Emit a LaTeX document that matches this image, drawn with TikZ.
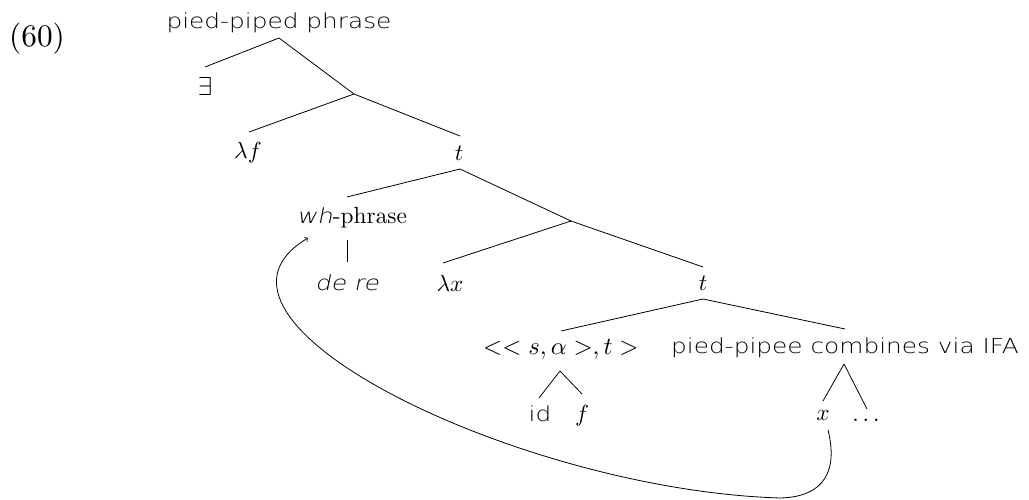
\documentclass[tikz,border=0pt]{standalone}
\usepackage{fix-cm}
\usepackage{fontspec}
\setmainfont{lmroman10-regular.otf}
\setsansfont{DejaVu Sans ExtraLight}[FakeStretch=1.2, ItalicFont={DejaVu Sans ExtraLight}, ItalicFeatures={FakeSlant=0.2}]
\DeclareFontShape{OML}{cmm}{m}{it}{<->cmmi10}{\skewchar\font'177}
\DeclareFontShape{OMS}{cmsy}{m}{n}{<->cmsy10}{\skewchar\font'60}
\DeclareFontShape{OT1}{cmr}{m}{n}{<->cmr10}{}
\usetikzlibrary{calc}
\newcommand\sanstxt{\fontsize{15.5}{18}\sffamily}
\newcommand\sertxt{\fontsize{17.5}{20}\rmfamily}
\tikzset{
  sn/.style={inner sep=0pt, font=\sanstxt},
  mn/.style={inner sep=0pt, font=\sertxt},
  br/.style={line width=0.6pt},
  mv/.style={line width=0.6pt, ->},
}
\begin{document}
\begin{tikzpicture}[x=0.75pt,y=-0.75pt]
\useasboundingbox (0,0) rectangle (1029,500);
% example number
\node[inner sep=0pt, font=\fontsize{23.5}{26}\rmfamily] (num) at (37,39) {(60)};
% nodes
\node[sn] (root) at (279,23) {pied-piped phrase};
\node[mn, font=\fontsize{19.5}{22}\rmfamily] (ex) at (205,86) {$\exists$};
\coordinate (n1) at (354,94);
\node[mn] (lf) at (248,153) {$\lambda f$};
\node[mn] (t1) at (459,153) {$t$};
\node[mn] (wh) at (352,218) {{\sanstxt\itshape wh}-phrase};
\coordinate (n2) at (571,221);
\node[sn] (dere) at (347,283) {\itshape de re};
\node[mn] (lx) at (450,283) {$\lambda x$};
\node[mn] (t2) at (703,283) {$t$};
\node[mn, font=\fontsize{18.5}{21}\rmfamily] (typ) at (561,349) {$<<s,\alpha>,t>$};
\node[sn] (pp) at (845,348) {pied-pipee combines via IFA};
\node[sn, anchor=base] (id) at (540,421) {id};
\node[mn, anchor=base] (f) at (582,421) {$f$};
\node[mn, anchor=base] (x) at (823,420) {$x$};
\node[mn, anchor=base] (dots) at (866,421) {$\ldots$};
% branches
\draw[br] ($(root.center)+(0,15)$) -- ($(ex.center)+(0,-19)$);
\draw[br] ($(root.center)+(0,15)$) -- (n1);
\draw[br] (n1) -- ($(lf.center)+(1,-21)$);
\draw[br] (n1) -- ($(t1.center)+(1,-17)$);
\draw[br] ($(t1.center)+(1,16)$) -- ($(wh.center)+(-5,-21)$);
\draw[br] ($(t1.center)+(1,16)$) -- (n2);
\draw[br] ($(wh.center)+(-5,22)$) -- ($(dere.center)+(0,-21)$);
\draw[br] (n2) -- ($(lx.center)+(-7,-20)$);
\draw[br] (n2) -- ($(t2.center)+(0,-16)$);
\draw[br] ($(t2.center)+(0,16)$) -- ($(typ.center)+(0,-18)$);
\draw[br] ($(t2.center)+(0,16)$) -- ($(pp.center)+(0,-19)$);
\draw[br] ($(typ.center)+(-1,22)$) -- ($(id.base)+(-1,-23)$);
\draw[br] ($(typ.center)+(-1,22)$) -- ($(f.base)+(0,-27)$);
\draw[br] ($(pp.center)+(-1,16)$) -- ($(x.base)+(0,-19)$);
\draw[br] ($(pp.center)+(-1,16)$) -- ($(dots.base)+(1,-12)$);
% movement arrow
\coordinate (low) at (780,498);
\draw[mv] ($(x.base)+(5,10)$) .. controls (838,470) and (825,497) .. (low)
  .. controls (520,490) and (170,320) .. ($(wh.center)+(-44,20)$);
\end{tikzpicture}
\end{document}
